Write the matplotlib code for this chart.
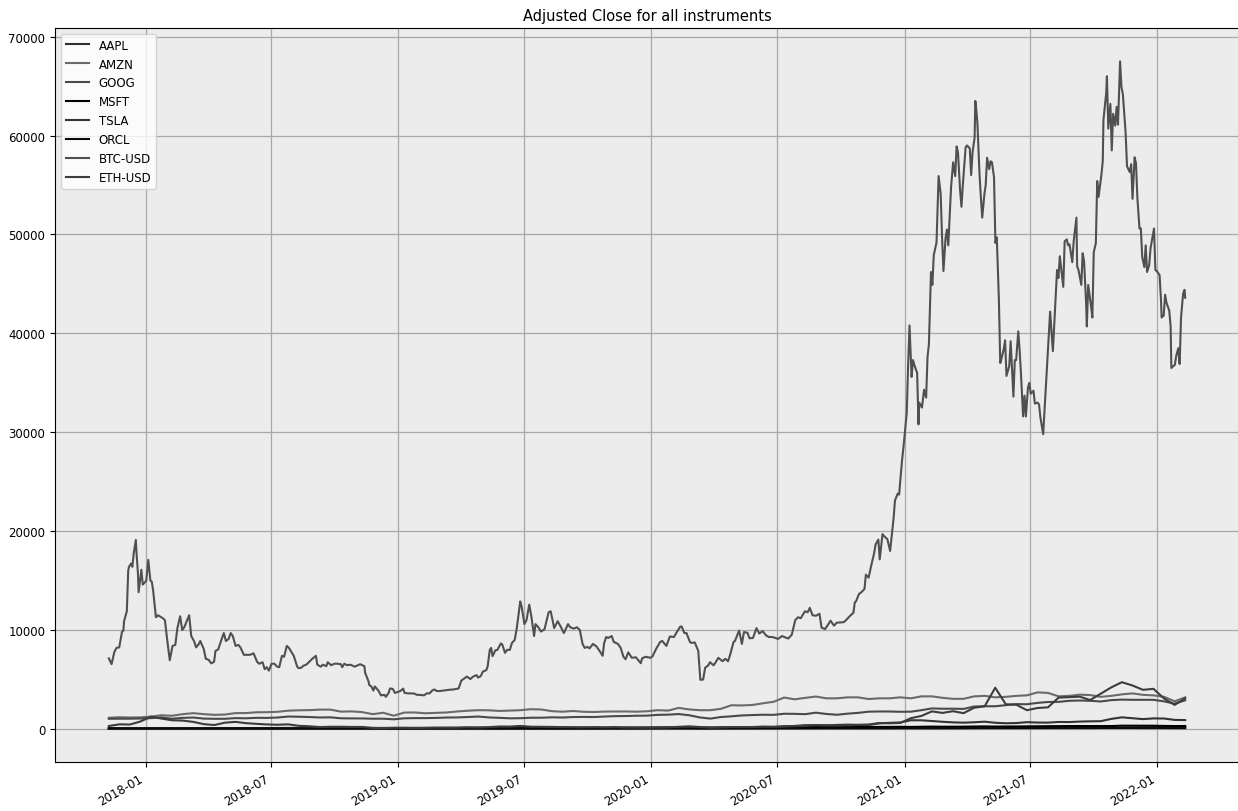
"""
Adjusted close of all tracked instruments on one axis.
"""

import matplotlib
matplotlib.use("Agg")
import matplotlib.dates as mdates
import matplotlib.pyplot as plt
import pandas as pd

# Stocks and ETH, sampled twice a month (~10th and ~25th), 2017-11-09 .. 2022-02-10
AAPL = [
    42, 42, 41, 41, 42, 41, 38, 42, 43, 41, 41, 39, 45, 46, 46, 45, 46, 47, 51, 53,
    53, 54, 52, 53, 48, 42, 41, 36, 37, 38, 41, 42, 42, 46, 48, 50, 47, 44, 47, 48,
    49, 50, 50, 50, 53, 53, 56, 60, 64, 65, 66, 70, 76, 78, 79, 71, 69, 60, 66, 70,
    77, 78, 84, 90, 94, 95, 110, 124, 112, 111, 115, 114, 114, 114, 122, 130, 128, 141, 134, 124,
    118, 119, 132, 133, 126, 126, 126, 132, 144, 148, 145, 148, 148, 145, 140, 148, 149, 161, 178, 175,
    172, 160, 172,
]
AMZN = [
    1130, 1186, 1160, 1176, 1255, 1390, 1340, 1500, 1600, 1500, 1430, 1460, 1605, 1610, 1690, 1700, 1740, 1850, 1890, 1905,
    1960, 1960, 1755, 1780, 1710, 1500, 1640, 1345, 1660, 1670, 1590, 1630, 1670, 1770, 1845, 1900, 1890, 1825, 1860, 1900,
    2000, 1970, 1800, 1750, 1820, 1740, 1720, 1760, 1770, 1770, 1750, 1790, 1900, 1860, 2130, 1980, 1900, 1900, 2040, 2400,
    2380, 2430, 2600, 2750, 3180, 3000, 3150, 3280, 3100, 3100, 3200, 3200, 3030, 3100, 3100, 3200, 3100, 3300, 3300, 3150,
    3050, 3050, 3300, 3350, 3200, 3250, 3350, 3400, 3700, 3650, 3300, 3350, 3470, 3430, 3250, 3350, 3500, 3600, 3450, 3400,
    3250, 2800, 3200,
]
GOOG = [
    1030, 1040, 1040, 1060, 1100, 1170, 1040, 1125, 1160, 1050, 1030, 1030, 1100, 1080, 1130, 1120, 1160, 1260, 1240, 1210,
    1165, 1180, 1080, 1070, 1065, 1040, 1040, 980, 1080, 1100, 1100, 1120, 1160, 1170, 1210, 1260, 1170, 1130, 1080, 1090,
    1140, 1140, 1180, 1160, 1210, 1220, 1210, 1260, 1300, 1310, 1340, 1350, 1430, 1450, 1510, 1390, 1170, 1050, 1210, 1280,
    1370, 1410, 1440, 1430, 1540, 1530, 1500, 1650, 1520, 1440, 1550, 1630, 1750, 1770, 1770, 1740, 1750, 1900, 2080, 2050,
    2050, 2030, 2270, 2300, 2300, 2410, 2520, 2500, 2640, 2730, 2740, 2850, 2880, 2850, 2780, 2920, 2970, 2950, 2950, 2950,
    2790, 2560, 2900,
]
MSFT = [
    80, 80, 81, 82, 85, 90, 85, 91, 93, 88, 89, 91, 94, 95, 98, 96, 100, 106, 105, 103,
    107, 111, 109, 104, 106, 103, 105, 93, 100, 105, 103, 109, 112, 116, 118, 125, 123, 122, 129, 132,
    135, 139, 135, 131, 134, 137, 136, 138, 143, 147, 147, 155, 159, 165, 180, 165, 150, 145, 162, 170,
    180, 181, 185, 195, 210, 205, 205, 210, 200, 205, 215, 212, 210, 210, 210, 220, 210, 225, 240, 230,
    230, 235, 250, 260, 245, 250, 255, 265, 275, 285, 290, 300, 300, 295, 295, 300, 335, 335, 335, 330,
    310, 295, 305,
]
TSLA = [
    60, 63, 68, 65, 67, 71, 62, 70, 67, 61, 60, 57, 61, 56, 66, 68, 62, 61, 71, 64,
    58, 62, 52, 63, 70, 69, 73, 59, 68, 59, 61, 60, 58, 52, 54, 52, 48, 42, 43, 45,
    48, 46, 47, 43, 49, 49, 48, 66, 69, 67, 70, 85, 96, 115, 150, 160, 130, 110, 115, 153,
    160, 165, 200, 190, 280, 280, 300, 400, 370, 410, 440, 420, 410, 570, 625, 660, 880, 880, 805, 730,
    670, 640, 680, 740, 630, 580, 600, 690, 650, 645, 710, 700, 750, 775, 790, 1020, 1180, 1090, 1000, 1070,
    1060, 920, 900,
]
ORCL = [
    47, 47, 46, 46, 48, 50, 46, 48, 50, 44, 43, 43, 44, 45, 45, 42, 45, 46, 46, 46,
    48, 49, 47, 46, 46, 45, 44, 43, 47, 49, 49, 50, 50, 51, 52, 53, 51, 49, 52, 55,
    55, 56, 51, 49, 53, 53, 52, 53, 53, 54, 52, 52, 53, 53, 52, 48, 45, 44, 50, 50,
    51, 52, 53, 54, 54, 54, 54, 54, 58, 57, 59, 56, 55, 56, 57, 63, 62, 62, 59, 63,
    64, 69, 75, 76, 77, 78, 79, 80, 84, 87, 87, 88, 89, 87, 93, 96, 94, 93, 88, 87,
    88, 80, 82,
]
ETH_USD = [
    300, 470, 450, 760, 1250, 1050, 880, 850, 720, 490, 400, 640, 720, 590, 520, 460, 430, 470, 320, 275,
    195, 225, 225, 205, 210, 110, 90, 130, 125, 110, 120, 140, 135, 135, 175, 155, 190, 250, 245, 310,
    230, 220, 210, 190, 180, 170, 190, 160, 190, 145, 145, 125, 140, 160, 220, 270, 200, 135, 160, 195,
    190, 200, 245, 230, 240, 310, 390, 385, 365, 350, 370, 405, 450, 600, 575, 610, 1090, 1320, 1780, 1625,
    1800, 1600, 2150, 2300, 4170, 2500, 2450, 1900, 2120, 2190, 3170, 3220, 3270, 2930, 3570, 4210, 4730, 4400, 3960, 4060,
    3080, 2440, 3100,
]

# BTC-USD on trading days around its swings
BTC_DATES = [
    "2017-11-09", "2017-11-13", "2017-11-17", "2017-11-20", "2017-11-24", "2017-11-28", "2017-11-30", "2017-12-01",
    "2017-12-05", "2017-12-07", "2017-12-08", "2017-12-11", "2017-12-13", "2017-12-15", "2017-12-18", "2017-12-19",
    "2017-12-21", "2017-12-22", "2017-12-26", "2017-12-28", "2018-01-02", "2018-01-05", "2018-01-08", "2018-01-10",
    "2018-01-12", "2018-01-16", "2018-01-19", "2018-01-26", "2018-01-29", "2018-02-01", "2018-02-05", "2018-02-07",
    "2018-02-09", "2018-02-13", "2018-02-16", "2018-02-20", "2018-02-23", "2018-02-26", "2018-03-02", "2018-03-05",
    "2018-03-08", "2018-03-12", "2018-03-15", "2018-03-19", "2018-03-21", "2018-03-26", "2018-03-29", "2018-04-02",
    "2018-04-06", "2018-04-10", "2018-04-12", "2018-04-16", "2018-04-20", "2018-04-24", "2018-04-27", "2018-05-01",
    "2018-05-04", "2018-05-07", "2018-05-11", "2018-05-15", "2018-05-18", "2018-05-23", "2018-05-29", "2018-06-01",
    "2018-06-06", "2018-06-11", "2018-06-14", "2018-06-19", "2018-06-22", "2018-06-25", "2018-06-28", "2018-07-02",
    "2018-07-06", "2018-07-10", "2018-07-13", "2018-07-17", "2018-07-20", "2018-07-24", "2018-07-27", "2018-07-31",
    "2018-08-03", "2018-08-08", "2018-08-10", "2018-08-14", "2018-08-17", "2018-08-21", "2018-08-24", "2018-08-29",
    "2018-09-04", "2018-09-06", "2018-09-11", "2018-09-14", "2018-09-19", "2018-09-21", "2018-09-26", "2018-10-01",
    "2018-10-05", "2018-10-10", "2018-10-12", "2018-10-15", "2018-10-19", "2018-10-24", "2018-10-30", "2018-11-02",
    "2018-11-07", "2018-11-13", "2018-11-14", "2018-11-19", "2018-11-20", "2018-11-23", "2018-11-26", "2018-11-28",
    "2018-12-03", "2018-12-07", "2018-12-12", "2018-12-14", "2018-12-18", "2018-12-20", "2018-12-24", "2018-12-27",
    "2018-12-31", "2019-01-04", "2019-01-08", "2019-01-10", "2019-01-15", "2019-01-18", "2019-01-24", "2019-01-28",
    "2019-02-01", "2019-02-07", "2019-02-11", "2019-02-15", "2019-02-19", "2019-02-22", "2019-02-25", "2019-03-01",
    "2019-03-08", "2019-03-15", "2019-03-22", "2019-03-29", "2019-04-02", "2019-04-05", "2019-04-10", "2019-04-15",
    "2019-04-19", "2019-04-24", "2019-04-26", "2019-04-30", "2019-05-03", "2019-05-08", "2019-05-10", "2019-05-13",
    "2019-05-15", "2019-05-17", "2019-05-21", "2019-05-24", "2019-05-29", "2019-05-31", "2019-06-04", "2019-06-07",
    "2019-06-11", "2019-06-14", "2019-06-18", "2019-06-21", "2019-06-26", "2019-06-28", "2019-07-02", "2019-07-05",
    "2019-07-09", "2019-07-12", "2019-07-16", "2019-07-18", "2019-07-22", "2019-07-26", "2019-07-31", "2019-08-06",
    "2019-08-09", "2019-08-14", "2019-08-19", "2019-08-23", "2019-08-28", "2019-09-03", "2019-09-06", "2019-09-11",
    "2019-09-16", "2019-09-20", "2019-09-24", "2019-09-27", "2019-10-01", "2019-10-04", "2019-10-09", "2019-10-14",
    "2019-10-18", "2019-10-23", "2019-10-25", "2019-10-28", "2019-10-31", "2019-11-05", "2019-11-08", "2019-11-14",
    "2019-11-18", "2019-11-22", "2019-11-25", "2019-11-29", "2019-12-04", "2019-12-10", "2019-12-17", "2019-12-19",
    "2019-12-24", "2019-12-31", "2020-01-03", "2020-01-08", "2020-01-14", "2020-01-17", "2020-01-23", "2020-01-28",
    "2020-02-03", "2020-02-07", "2020-02-12", "2020-02-14", "2020-02-18", "2020-02-21", "2020-02-26", "2020-02-28",
    "2020-03-04", "2020-03-09", "2020-03-12", "2020-03-16", "2020-03-19", "2020-03-23", "2020-03-26", "2020-03-31",
    "2020-04-03", "2020-04-07", "2020-04-13", "2020-04-17", "2020-04-21", "2020-04-24", "2020-04-29", "2020-05-01",
    "2020-05-07", "2020-05-11", "2020-05-14", "2020-05-19", "2020-05-22", "2020-05-27", "2020-06-01", "2020-06-05",
    "2020-06-10", "2020-06-15", "2020-06-19", "2020-06-24", "2020-06-29", "2020-07-02", "2020-07-08", "2020-07-13",
    "2020-07-17", "2020-07-22", "2020-07-27", "2020-07-31", "2020-08-04", "2020-08-10", "2020-08-14", "2020-08-17",
    "2020-08-21", "2020-08-26", "2020-08-31", "2020-09-03", "2020-09-08", "2020-09-11", "2020-09-16", "2020-09-21",
    "2020-09-25", "2020-09-30", "2020-10-05", "2020-10-09", "2020-10-14", "2020-10-19", "2020-10-21", "2020-10-23",
    "2020-10-27", "2020-10-30", "2020-11-04", "2020-11-06", "2020-11-10", "2020-11-13", "2020-11-18", "2020-11-20",
    "2020-11-24", "2020-11-26", "2020-11-30", "2020-12-03", "2020-12-07", "2020-12-11", "2020-12-16", "2020-12-18",
    "2020-12-22", "2020-12-24", "2020-12-28", "2020-12-31", "2021-01-04", "2021-01-06", "2021-01-08", "2021-01-11",
    "2021-01-13", "2021-01-15", "2021-01-19", "2021-01-21", "2021-01-22", "2021-01-26", "2021-01-29", "2021-02-01",
    "2021-02-03", "2021-02-05", "2021-02-08", "2021-02-10", "2021-02-12", "2021-02-16", "2021-02-19", "2021-02-22",
    "2021-02-24", "2021-02-26", "2021-03-01", "2021-03-03", "2021-03-05", "2021-03-09", "2021-03-12", "2021-03-15",
    "2021-03-17", "2021-03-19", "2021-03-22", "2021-03-24", "2021-03-26", "2021-03-30", "2021-04-01", "2021-04-05",
    "2021-04-07", "2021-04-09", "2021-04-12", "2021-04-13", "2021-04-14", "2021-04-16", "2021-04-19", "2021-04-21",
    "2021-04-23", "2021-04-26", "2021-04-28", "2021-04-30", "2021-05-03", "2021-05-05", "2021-05-07", "2021-05-10",
    "2021-05-12", "2021-05-14", "2021-05-17", "2021-05-19", "2021-05-21", "2021-05-24", "2021-05-26", "2021-05-28",
    "2021-06-01", "2021-06-03", "2021-06-07", "2021-06-09", "2021-06-11", "2021-06-14", "2021-06-16", "2021-06-18",
    "2021-06-21", "2021-06-23", "2021-06-25", "2021-06-28", "2021-06-30", "2021-07-02", "2021-07-06", "2021-07-08",
    "2021-07-12", "2021-07-14", "2021-07-16", "2021-07-20", "2021-07-22", "2021-07-26", "2021-07-28", "2021-07-30",
    "2021-08-03", "2021-08-05", "2021-08-09", "2021-08-11", "2021-08-13", "2021-08-16", "2021-08-18", "2021-08-20",
    "2021-08-23", "2021-08-25", "2021-08-27", "2021-08-31", "2021-09-02", "2021-09-06", "2021-09-07", "2021-09-09",
    "2021-09-13", "2021-09-15", "2021-09-17", "2021-09-20", "2021-09-21", "2021-09-23", "2021-09-27", "2021-09-29",
    "2021-10-01", "2021-10-04", "2021-10-06", "2021-10-08", "2021-10-12", "2021-10-14", "2021-10-15", "2021-10-19",
    "2021-10-20", "2021-10-22", "2021-10-25", "2021-10-27", "2021-10-29", "2021-11-01", "2021-11-03", "2021-11-05",
    "2021-11-08", "2021-11-10", "2021-11-12", "2021-11-16", "2021-11-18", "2021-11-22", "2021-11-24", "2021-11-26",
    "2021-11-29", "2021-12-01", "2021-12-03", "2021-12-06", "2021-12-08", "2021-12-10", "2021-12-13", "2021-12-15",
    "2021-12-17", "2021-12-20", "2021-12-22", "2021-12-27", "2021-12-29", "2021-12-31", "2022-01-04", "2022-01-06",
    "2022-01-07", "2022-01-10", "2022-01-12", "2022-01-14", "2022-01-18", "2022-01-20", "2022-01-21", "2022-01-24",
    "2022-01-26", "2022-01-28", "2022-01-31", "2022-02-02", "2022-02-04", "2022-02-07", "2022-02-09", "2022-02-10",
]
BTC_CLOSE = [
    7144, 6560, 7790, 8200, 8250, 9820, 9950, 10900,
    11900, 16000, 16367, 16730, 16400, 17776, 19114, 17776,
    15800, 13831, 16100, 14600, 14980, 17100, 15000, 14900,
    14000, 11300, 11500, 11200, 11000, 9170, 6955, 7700,
    8400, 8500, 10200, 11400, 10000, 10300, 11000, 11500,
    9400, 8900, 8250, 8600, 8900, 8100, 7100, 7000,
    6630, 6800, 7900, 8050, 8900, 9700, 8900, 9100,
    9700, 9400, 8400, 8500, 8250, 7500, 7500, 7500,
    7650, 6800, 6600, 6750, 6050, 6250, 5900, 6600,
    6600, 6300, 6250, 7400, 7300, 8400, 8200, 7750,
    7400, 6300, 6150, 6200, 6400, 6500, 6700, 7050,
    7400, 6500, 6300, 6500, 6350, 6750, 6450, 6600,
    6600, 6550, 6250, 6600, 6450, 6500, 6300, 6400,
    6550, 6350, 5700, 4800, 4450, 4300, 3880, 4300,
    3900, 3400, 3450, 3250, 3650, 4100, 4050, 3650,
    3740, 3850, 4080, 3650, 3600, 3600, 3580, 3450,
    3450, 3400, 3600, 3600, 3900, 4000, 3850, 3830,
    3900, 3960, 4000, 4100, 4900, 5050, 5300, 5050,
    5300, 5450, 5200, 5350, 5800, 5950, 6350, 8000,
    8200, 7360, 7950, 8000, 8650, 8550, 7700, 8000,
    8000, 8700, 9000, 10200, 12900, 12400, 10600, 11000,
    12570, 11400, 9400, 10600, 10300, 9850, 10080, 11800,
    11900, 10200, 10900, 10400, 9700, 10600, 10300, 10150,
    10280, 10000, 8600, 8200, 8300, 8150, 8600, 8350,
    7950, 7400, 8650, 9300, 9200, 9400, 8800, 8600,
    8200, 7300, 7050, 7750, 7200, 7250, 6650, 7150,
    7300, 7200, 7350, 8080, 8800, 8900, 8400, 9350,
    9300, 9800, 10350, 10360, 9700, 9700, 8800, 8700,
    8750, 7900, 4970, 5000, 6200, 6400, 6750, 6440,
    6730, 7200, 6850, 7100, 6850, 7500, 8800, 8900,
    9950, 8600, 9800, 9730, 9170, 9200, 10200, 9650,
    9900, 9450, 9300, 9300, 9190, 9100, 9400, 9250,
    9150, 9530, 11000, 11300, 11200, 11900, 11800, 12250,
    11500, 11450, 11650, 10250, 10100, 10400, 10950, 10450,
    10750, 10780, 10800, 11050, 11430, 11750, 12800, 12930,
    13650, 13800, 14150, 15600, 15300, 16300, 17800, 18650,
    19150, 17150, 19700, 19450, 19200, 18000, 21300, 23100,
    23800, 23700, 27000, 29000, 31970, 36800, 40800, 35600,
    37300, 36800, 36000, 30800, 33000, 32500, 34300, 33500,
    37600, 38900, 46200, 44900, 47900, 49200, 55900, 54100,
    49700, 46300, 49600, 50500, 48900, 54800, 57300, 55900,
    58900, 58300, 54500, 52800, 55000, 58800, 59000, 58700,
    56000, 58300, 59800, 63500, 62900, 61300, 56200, 53800,
    51700, 54000, 55000, 57750, 56600, 57400, 57300, 55800,
    49150, 49700, 43500, 37000, 37500, 38400, 39300, 35700,
    36700, 39200, 33600, 37300, 37300, 40200, 38300, 35800,
    31600, 33700, 31600, 34500, 35000, 33900, 34200, 32900,
    33000, 32800, 31500, 29800, 32300, 37300, 40000, 42200,
    38200, 40900, 46400, 45600, 47800, 45900, 44700, 49300,
    49500, 48900, 49000, 47200, 49300, 51700, 46800, 46400,
    44900, 48100, 47300, 43000, 40700, 44900, 42800, 41600,
    48200, 49100, 55400, 53800, 56000, 57400, 61600, 64300,
    66000, 60700, 63200, 58500, 62200, 61000, 62900, 61100,
    67500, 64900, 64200, 60300, 56900, 56300, 57100, 53600,
    57800, 57200, 53700, 50600, 50600, 47700, 46700, 48900,
    46200, 46900, 48600, 50600, 46400, 46300, 45900, 43500,
    41600, 41800, 43900, 43100, 42300, 40700, 36500, 36700,
    36800, 37700, 38500, 36900, 41600, 44000, 44400, 43600,
]

TICKERS = ["AAPL", "AMZN", "GOOG", "MSFT", "TSLA", "ORCL", "BTC-USD", "ETH-USD"]
COLORS = ["#2e2e2e", "#6a6a6a", "#4a4a4a", "#000000", "#333333", "#0a0a0a", "#505050", "#3c3c3c"]


def main():
    half_month = pd.date_range("2017-11-09", "2022-02-10", periods=len(AAPL))
    btc_dates = pd.to_datetime(BTC_DATES)

    series = {
        "AAPL": (half_month, AAPL),
        "AMZN": (half_month, AMZN),
        "GOOG": (half_month, GOOG),
        "MSFT": (half_month, MSFT),
        "TSLA": (half_month, TSLA),
        "ORCL": (half_month, ORCL),
        "BTC-USD": (btc_dates, BTC_CLOSE),
        "ETH-USD": (half_month, ETH_USD),
    }

    fig = plt.figure(figsize=(12.38, 8.12), dpi=100)
    ax = fig.add_axes([55 / 1238, 49 / 812, 1184 / 1238, 734 / 812])
    ax.set_facecolor("#ececec")

    for name, color in zip(TICKERS, COLORS):
        x, y = series[name]
        ax.plot(x, y, color=color, lw=1.5, label=name)

    ax.set_title("Adjusted Close for all instruments", fontsize=10.5)
    ax.grid(True, color="#a8a8a8", lw=0.9)
    ax.set_axisbelow(True)

    ax.xaxis.set_major_locator(mdates.MonthLocator(bymonth=[1, 7]))
    ax.xaxis.set_major_formatter(mdates.DateFormatter("%Y-%m"))
    for lbl in ax.get_xticklabels():
        lbl.set_rotation(30)
        lbl.set_ha("right")
    ax.tick_params(labelsize=8.5)
    ax.ticklabel_format(axis="y", style="plain")

    ax.legend(loc="upper left", fontsize=8.5)

    fig.savefig("out.png", dpi=100)
    plt.close(fig)


if __name__ == "__main__":
    main()
